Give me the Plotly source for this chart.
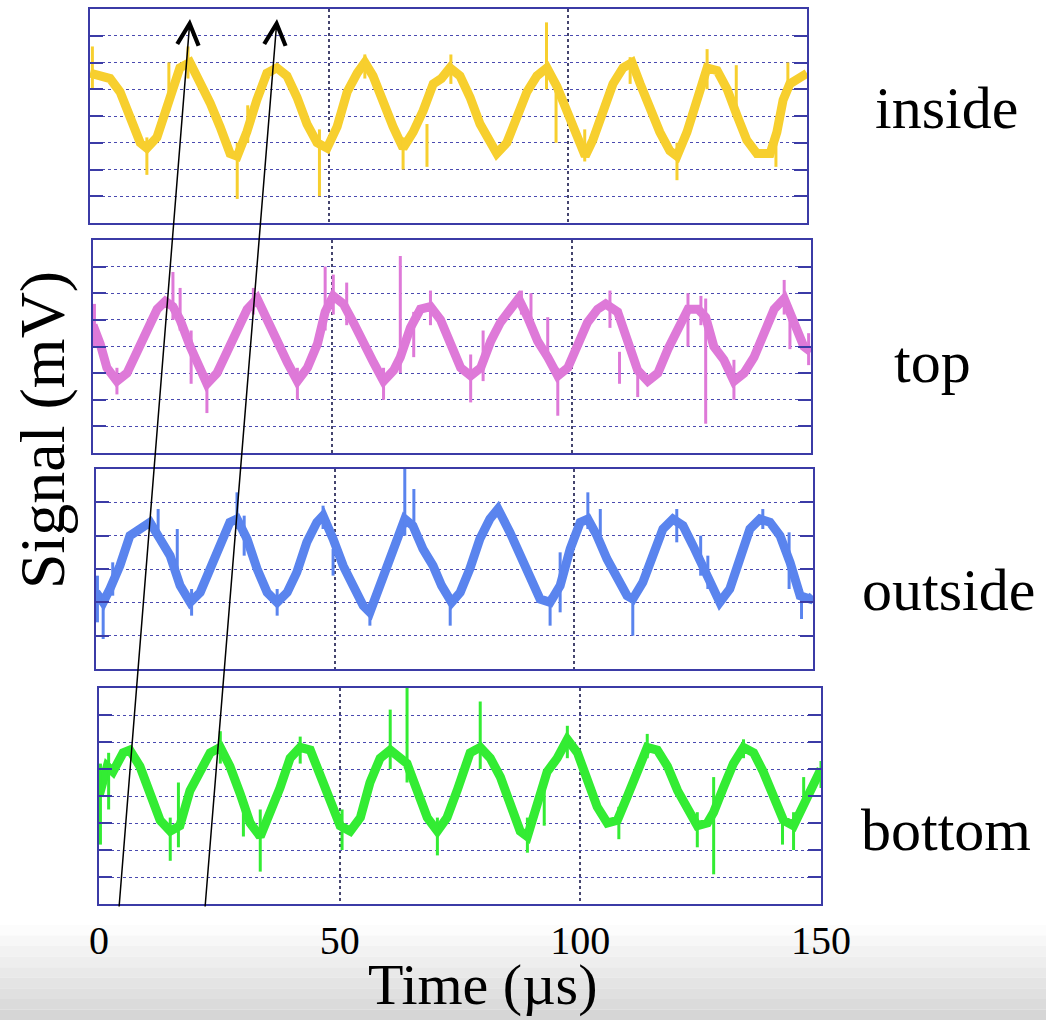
import plotly.graph_objects as go

# ---------------- data (signal in screen divisions, time in microseconds) ----------------
inside_t = [0, 2.1, 4.2, 6.3, 8.4, 10.5, 11.9, 14, 15.3, 16.7, 18.8, 20.9, 23, 25.1, 27.2, 29.3, 30.8, 32.8,
            34.9, 37, 39.1, 41.2, 43.3, 45.4, 47.5, 49.6, 51.7, 53.8, 55.9, 57.5, 59.2, 61.3, 63.4, 65.5,
            67.6, 69.7, 71.8, 73.5, 75.3, 77.4, 79.5, 81.6, 83.7, 85.1, 87.2, 89.3, 91.4, 93.5, 95.6, 97.7,
            99.8, 101.9, 103.6, 105.2, 107.3, 109.4, 111.5, 113.4, 115.1, 117.2, 119.2, 121.3, 122.8, 124.9,
            127, 129.1, 131.2, 133.3, 135.4, 137.4, 139.5, 142.3, 143.7, 145, 146.4, 148, 150]
inside_v = [5.6, 5.5, 5.4, 4.9, 4.0, 3.0, 2.8, 3.2, 3.9, 4.6, 5.8, 6.0, 5.3, 4.5, 3.6, 2.6, 2.5, 3.4,
            4.6, 5.6, 5.8, 5.5, 4.7, 3.7, 3.0, 2.8, 3.6, 4.9, 5.6, 6.0, 5.5, 4.5, 3.6, 2.8,
            3.4, 4.2, 5.2, 5.4, 5.8, 5.5, 4.7, 3.7, 3.0, 2.6, 3.0, 3.9, 4.9, 5.5, 5.8, 5.1,
            4.1, 3.2, 2.5, 3.1, 4.2, 5.2, 5.8, 6.0, 5.2, 4.2, 3.4, 2.7, 2.5, 3.4,
            4.6, 5.8, 5.7, 5.0, 4.0, 3.1, 2.6, 2.6, 3.4, 4.6, 5.2, 5.4, 5.6]
inside_spk_t = [0.5, 11.9, 16.5, 20.5, 30.8, 33.0, 48.0, 57.5, 65.5, 70.5, 75.5, 95.5, 97.5, 103.5,
                113.0, 122.8, 129.1, 135.2, 143.5, 146.0]
inside_spk_lo = [5.0, 1.8, 4.2, 5.4, 0.9, 3.0, 1.0, 5.4, 2.0, 2.1, 5.2, 5.0, 3.0, 2.3,
                 5.2, 1.6, 5.0, 4.2, 2.1, 4.8]
inside_spk_hi = [6.6, 3.2, 6.0, 6.6, 3.0, 4.4, 3.5, 6.3, 3.2, 3.7, 6.3, 7.5, 5.2, 3.5,
                 6.2, 3.0, 6.5, 5.9, 3.5, 6.0]

top_t = [0, 1.5, 2.9, 5, 7.1, 9.2, 11.3, 13.4, 15.1, 16.7, 18.2, 20.3, 22.4, 23.8, 25.9, 28, 30.1, 32.2,
         34.3, 36.4, 38.5, 40.6, 42.7, 44.8, 46.9, 48.5, 50.2, 52.3, 54.4, 56.5, 58.6, 60.7, 62.8, 64.2,
         66.3, 68.4, 70.5, 72.6, 74.7, 76.8, 78.9, 81, 83.1, 85.1, 87.2, 88.9, 90.8, 92.9, 95, 97.1, 99.2,
         101.3, 103.3, 105.4, 107.1, 109.6, 111.7, 113.8, 115.9, 118, 120.1, 122.2, 124.3, 126.4, 128,
         129.7, 131.8, 133.9, 136, 138.1, 140.2, 142.3, 144.4, 146.4, 148.5, 150]
top_v = [4.8, 4.1, 3.2, 2.7, 3.0, 3.9, 4.6, 5.4, 5.7, 5.5, 5.0, 4.0, 3.1, 2.6, 3.0, 3.8, 4.6, 5.4,
         5.8, 5.0, 4.1, 3.4, 2.7, 3.2, 4.1, 5.3, 5.9, 5.6, 4.9, 4.1, 3.4, 2.7, 3.1, 3.6,
         4.7, 5.4, 5.5, 5.0, 4.1, 3.2, 2.9, 3.2, 4.2, 4.9, 5.4, 5.8, 5.1, 4.2, 3.6, 2.9, 3.2,
         4.1, 4.9, 5.4, 5.6, 5.3, 4.2, 3.1, 2.7, 3.0, 3.9, 4.7, 5.4, 5.4, 5.1,
         4.0, 3.5, 2.7, 3.0, 3.6, 4.6, 5.4, 5.8, 4.9, 4.0, 3.8]
top_spk_t = [0.3, 5.0, 16.7, 18.2, 20.5, 23.8, 33.5, 42.7, 48.5, 50.2, 53.0, 60.7, 64.2, 67.0, 70.5,
             78.9, 81.5, 89.5, 91.5, 95.0, 97.1, 108.0, 110.0, 113.8, 124.3, 127.0, 128.0, 133.9,
             144.4, 145.6, 149.5]
top_spk_lo = [4.0, 2.2, 5.0, 4.6, 2.6, 1.5, 5.2, 2.0, 4.6, 5.2, 4.8, 2.0, 3.0, 3.6, 4.8,
              1.9, 2.7, 5.2, 5.0, 3.6, 1.4, 4.7, 2.6, 2.1, 4.0, 4.8, 1.1, 2.0,
              5.2, 3.9, 3.3]
top_spk_hi = [5.6, 3.2, 6.8, 6.2, 4.6, 3.0, 6.2, 3.2, 7.0, 6.7, 6.4, 3.2, 7.4, 5.3, 6.1,
              3.7, 4.6, 6.1, 6.0, 5.1, 3.2, 6.1, 3.8, 3.2, 6.0, 5.9, 5.8, 3.5,
              6.5, 5.2, 4.5]

outside_t = [0, 1.5, 2.9, 5, 7.1, 9.2, 11.3, 13.4, 15.5, 17.6, 19.7, 21.8, 23.8, 25.9, 28, 29.5, 31.6,
             33.7, 35.8, 37.9, 40, 42, 44.1, 46.2, 47.5, 49.6, 51.7, 53.8, 55.9, 57.3, 59.4, 61.5, 63.6,
             64.6, 66.3, 68.4, 70.5, 72.3, 74.4, 76.2, 78.2, 80.3, 82.4, 84.1, 86.6, 88.7, 90.8, 92.9, 95,
             97.1, 99.2, 101.3, 102.9, 104.8, 106.9, 109, 111.1, 112.3, 114.4, 116.5, 118.6, 120.7, 122.8,
             124.9, 127, 129.1, 130.5, 132.6, 134.7, 136.8, 138.9, 141, 143.1, 145.2, 147.3, 149.4, 150]
outside_v = [2.3, 2.0, 2.4, 3.1, 4.0, 4.2, 4.4, 3.9, 3.4, 2.5, 2.0, 2.3, 3.0, 3.7, 4.4, 4.5, 3.9,
             3.0, 2.3, 2.0, 2.3, 2.9, 3.8, 4.4, 4.6, 3.9, 3.1, 2.5, 1.9, 1.7, 2.5, 3.2, 4.1,
             4.5, 4.3, 3.6, 3.1, 2.5, 2.0, 2.3, 3.0, 3.9, 4.5, 4.8, 4.1, 3.4, 2.7, 2.1, 2.0,
             2.5, 3.6, 4.4, 4.5, 4.0, 3.3, 2.8, 2.2, 2.1, 2.6, 3.4, 4.2, 4.5, 4.3,
             3.7, 3.1, 2.5, 2.0, 2.4, 3.3, 4.2, 4.5, 4.4, 4.0, 3.2, 2.2, 2.1, 2.2]
outside_spk_t = [0.3, 1.5, 3.5, 13.0, 17.0, 20.0, 29.5, 31.0, 37.9, 47.5, 49.6, 57.3, 64.6, 66.5, 74.1,
                 95.0, 97.1, 102.9, 105.5, 112.3, 121.5, 126.5, 128.0, 139.5, 145.0, 147.6]
outside_spk_lo = [1.4, 0.9, 2.2, 4.0, 3.0, 1.6, 4.2, 3.4, 1.6, 4.2, 2.8, 1.3, 4.0, 4.0, 1.3,
                  1.3, 1.7, 4.2, 3.8, 1.0, 3.8, 2.8, 2.4, 4.2, 2.4, 1.5]
outside_spk_hi = [2.8, 2.2, 3.2, 4.8, 4.2, 2.4, 5.3, 4.6, 2.4, 4.9, 3.6, 2.0, 6.0, 5.4, 2.2,
                  2.2, 3.5, 5.3, 4.8, 2.2, 4.8, 4.0, 3.4, 4.8, 4.1, 2.4]

bottom_t = [0, 1.7, 2.9, 5, 6.4, 8.5, 10.6, 12.7, 14.8, 16.8, 18.9, 21, 23.1, 25.2, 27.2, 29.3, 31.4,
            33.5, 35.6, 37.6, 39.7, 41.8, 43.9, 46, 48, 50.1, 52.2, 54.3, 56.3, 58.4, 60.5, 62.6, 64,
            66.1, 68.2, 70.3, 72.3, 74.4, 77.1, 79.2, 81.3, 83.4, 85.4, 87.5, 89, 91.1, 93.1, 95.2, 97.3,
            99.4, 101.5, 103.5, 105.6, 107.7, 109.8, 111.9, 113.9, 116, 118.1, 120.2, 122.3, 124.3, 126.4,
            127.7, 129.7, 131.8, 133.9, 136, 138, 140.1, 142.2, 144.3, 146.4, 148.4, 150]
bottom_v = [4.0, 5.1, 4.9, 5.6, 5.7, 5.1, 4.1, 3.1, 2.7, 2.9, 4.2, 4.9, 5.6, 5.8, 5.1, 4.1, 3.0,
            2.5, 3.4, 4.3, 5.4, 5.8, 5.7, 4.7, 3.7, 2.9, 2.7, 3.2, 4.5, 5.4, 5.7, 5.4, 5.2,
            4.2, 3.2, 2.7, 3.2, 4.2, 5.6, 5.8, 5.4, 4.7, 3.6, 2.7, 2.5, 3.6, 4.9, 5.4, 6.1,
            5.6, 4.6, 3.6, 3.0, 3.1, 4.0, 5.0, 5.8, 5.7, 5.1, 4.2, 3.5, 2.9, 3.0,
            3.4, 4.3, 5.2, 5.8, 5.6, 4.9, 3.9, 3.1, 2.9, 3.7, 4.3, 5.0]
bottom_spk_t = [0.3, 2.0, 14.8, 16.5, 25.2, 30.0, 33.5, 41.8, 50.5, 60.5, 64.0, 70.3, 79.2, 89.0,
                92.5, 97.3, 108.0, 113.9, 124.3, 127.7, 133.9, 142.0, 144.3, 146.4, 150.0]
bottom_spk_lo = [2.2, 3.5, 1.6, 2.1, 5.2, 2.5, 1.2, 5.2, 2.0, 5.0, 4.5, 1.8, 5.0, 1.9,
                 2.9, 5.4, 2.4, 5.4, 2.1, 1.1, 5.4, 2.2, 2.0, 3.5, 4.3]
bottom_spk_hi = [5.2, 5.6, 3.2, 4.5, 6.4, 4.0, 3.5, 6.2, 3.5, 7.2, 8.0, 3.2, 7.5, 3.2,
                 4.2, 6.6, 3.6, 6.3, 3.4, 4.7, 6.1, 3.4, 3.4, 4.7, 5.3]

panel_names = ["inside", "top", "outside", "bottom"]
panel_colors = ["#F7CF2E", "#DE79D8", "#5A84EE", "#33EC33"]
panel_divisions = [8, 8, 6, 8]
x_ticks = [0, 50, 100, 150]
x_tick_text = ["0", "50", "100", "150"]

series = [
    (inside_t, inside_v, inside_spk_t, inside_spk_lo, inside_spk_hi),
    (top_t, top_v, top_spk_t, top_spk_lo, top_spk_hi),
    (outside_t, outside_v, outside_spk_t, outside_spk_lo, outside_spk_hi),
    (bottom_t, bottom_v, bottom_spk_t, bottom_spk_lo, bottom_spk_hi),
]

# ---------------- layout geometry (pixels of the 1046 x 1020 page) ----------------
W, H = 1046, 1020
panel_px = [  # left, right, top, bottom
    (90, 807, 9, 223),
    (93, 811, 240, 453),
    (96, 813, 469, 669),
    (99, 821, 688, 904),
]

SERIF = "Liberation Serif, Times New Roman, serif"
BORDER = "#3b3ba6"
HGRID = "#4a4ab0"
VGRID = "#45456e"

fig = go.Figure()
layout = {}
for i, ((t, v, st, slo, shi), name, col, ndiv, (l, r, tp, b)) in enumerate(
        zip(series, panel_names, panel_colors, panel_divisions, panel_px)):
    k = "" if i == 0 else str(i + 1)
    xa, ya = "x" + k, "y" + k
    fig.add_trace(go.Scatter(x=t, y=v, mode="lines", name=name, xaxis=xa, yaxis=ya,
                             line=dict(color=col, width=9), showlegend=False,
                             hoverinfo="skip"))
    sx, sy = [], []
    for a, lo, hi in zip(st, slo, shi):
        sx += [a, a, None]
        sy += [lo, hi, None]
    fig.add_trace(go.Scatter(x=sx, y=sy, mode="lines", xaxis=xa, yaxis=ya,
                             line=dict(color=col, width=3), showlegend=False, hoverinfo="skip"))
    last = (i == 3)
    layout["xaxis" + k] = dict(
        domain=[l / W, r / W], range=[0, 150], anchor=ya, automargin=False,
        tickvals=x_ticks, ticktext=x_tick_text, showticklabels=last,
        tickfont=dict(family=SERIF, size=40, color="black"), ticks="",
        ticklabelstandoff=0,
        showgrid=True, gridcolor=VGRID, griddash="dot", gridwidth=2,
        showline=True, linecolor=BORDER, linewidth=2, mirror=True, zeroline=False,
    )
    layout["yaxis" + k] = dict(
        domain=[1 - b / H, 1 - tp / H], range=[0, ndiv], anchor=xa, automargin=False,
        tick0=0, dtick=1, showticklabels=False,
        ticks="inside", ticklen=13, tickwidth=1.5, tickcolor=BORDER,
        showgrid=True, gridcolor=HGRID, griddash="dot", gridwidth=1,
        showline=True, linecolor=BORDER, linewidth=2, mirror="ticks", zeroline=False,
    )

# soft grey gradient along the bottom edge of the page
shapes = []
band_cols = ["#fcfcfc", "#f7f7f7", "#f2f2f2", "#eeeeee", "#e9e9e9", "#e4e4e4", "#e0e0e0", "#dbdbdb", "#d6d6d6"]
y0 = 925
step = (H - y0) / len(band_cols)
for j, c in enumerate(band_cols):
    shapes.append(dict(type="rect", xref="paper", yref="paper", layer="below",
                       x0=0, x1=1, y0=1 - (y0 + (j + 1) * step) / H, y1=1 - (y0 + j * step) / H,
                       fillcolor=c, line=dict(width=0)))

annotations = [
    dict(text="Signal (mV)", x=42 / W, y=1 - 430 / H, textangle=-90, size=64),
    dict(text="Time (µs)", x=482 / W, y=1 - 984 / H, size=58),
    dict(text="inside", x=946 / W, y=1 - 108 / H, size=60),
    dict(text="top", x=932 / W, y=1 - 362 / H, size=60),
    dict(text="outside", x=948 / W, y=1 - 590 / H, size=60),
    dict(text="bottom", x=946 / W, y=1 - 830 / H, size=60),
]
for a in annotations:
    s = a.pop("size")
    a.update(xref="paper", yref="paper", showarrow=False, xanchor="center", yanchor="middle",
             font=dict(family=SERIF, size=s, color="black"))

# the two slanted arrows
for tip_x, tail_x in [(190, 119), (277, 205)]:
    annotations.append(dict(text="", xref="paper", yref="paper", x=tip_x / W, y=1 - 19 / H,
                            ax=tail_x - tip_x, ay=908 - 19, showarrow=True, arrowhead=5,
                            arrowsize=2.8, arrowwidth=1.5, arrowcolor="black", standoff=0))

fig.update_layout(
    width=W, height=H, margin=dict(l=0, r=0, t=0, b=0, pad=0, autoexpand=False), autosize=False,
    paper_bgcolor="white", plot_bgcolor="white",
    shapes=shapes, annotations=annotations, **layout,
)

fig.write_html(
    "out.html",
    config={"responsive": False},
    post_script="document.body.style.margin='0';document.body.style.overflow='hidden';",
)
